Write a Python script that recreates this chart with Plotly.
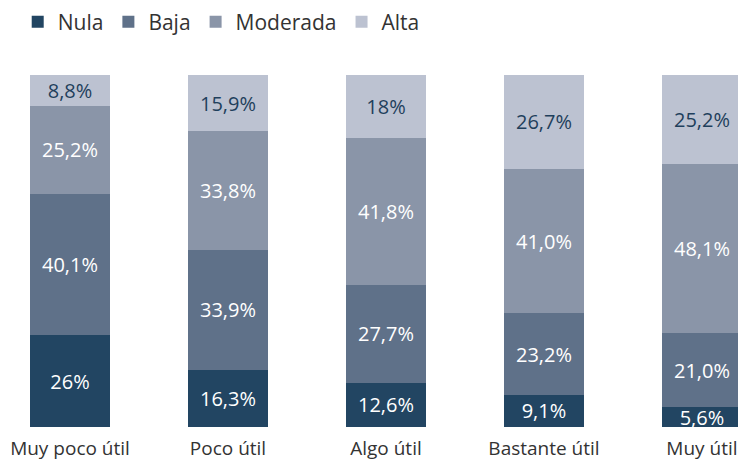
import plotly.graph_objects as go

categories = ["Muy poco útil", "Poco útil", "Algo útil", "Bastante útil", "Muy útil"]
series_names = ["Nula", "Baja", "Moderada", "Alta"]

nula = [26.0, 16.3, 12.6, 9.1, 5.6]
baja = [40.1, 33.9, 27.7, 23.2, 21.0]
moderada = [25.2, 33.8, 41.8, 41.0, 48.1]
alta = [8.8, 15.9, 18.0, 26.7, 25.2]

nula_labels = ["26%", "16,3%", "12,6%", "9,1%", "5,6%"]
baja_labels = ["40,1%", "33,9%", "27,7%", "23,2%", "21,0%"]
moderada_labels = ["25,2%", "33,8%", "41,8%", "41,0%", "48,1%"]
alta_labels = ["8,8%", "15,9%", "18%", "26,7%", "25,2%"]

colors = ["#224562", "#5f7189", "#8a95a8", "#bcc2d1"]
text_colors = ["#ffffff", "#ffffff", "#ffffff", "#1f3f5c"]

FONT = "Open Sans"

fig = go.Figure()
for name, vals, labels, col, tcol in zip(
    series_names,
    [nula, baja, moderada, alta],
    [nula_labels, baja_labels, moderada_labels, alta_labels],
    colors,
    text_colors,
):
    fig.add_trace(go.Bar(
        name=name,
        x=categories,
        y=vals,
        text=labels,
        textposition="inside",
        insidetextanchor="middle",
        textangle=0,
        textfont=dict(family=FONT, size=20, color=tcol),
        marker=dict(color=col, line=dict(width=0)),
        width=0.51,
        hoverinfo="skip",
    ))

fig.update_layout(
    barmode="stack",
    width=738,
    height=462,
    margin=dict(l=0, r=0, t=75, b=35, autoexpand=False),
    paper_bgcolor="white",
    plot_bgcolor="white",
    uniformtext=dict(minsize=20, mode="show"),
    font=dict(family=FONT, color="#333333"),
    legend=dict(
        orientation="h",
        x=0.024,
        xanchor="left",
        yref="container",
        y=0.952,
        yanchor="middle",
        font=dict(family=FONT, size=21, color="#333333"),
        itemwidth=30,
        traceorder="normal",
    ),
    xaxis=dict(
        type="category",
        range=[-0.443, 4.228],
        showgrid=False,
        showline=False,
        zeroline=False,
        ticks="",
        automargin=False,
        ticklabelstandoff=8,
        tickfont=dict(family=FONT, size=19, color="#333333"),
        fixedrange=True,
    ),
    yaxis=dict(
        range=[0, 100],
        showgrid=False,
        showline=False,
        zeroline=False,
        showticklabels=False,
        automargin=False,
        fixedrange=True,
    ),
)

fig.write_html(
    "out.html",
    config={"displayModeBar": False},
    post_script="document.body.style.margin='0';document.body.style.padding='0';",
)
